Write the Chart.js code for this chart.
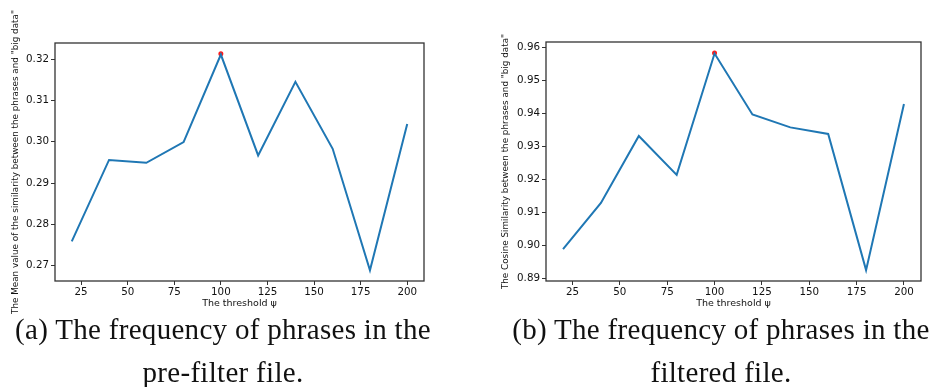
<!DOCTYPE html>
<html>
<head>
<meta charset="utf-8">
<script src="https://cdn.jsdelivr.net/npm/chart.js@4"></script>
<style>
  body { margin: 0; background: #fff; width: 935px; height: 387px; overflow: hidden; position: relative; }
  canvas { position: absolute; }
  #chartA { left: 0; top: 0; }
  #chartB { left: 470px; top: 0; }
  .caption {
    position: absolute; text-align: center; color: #111;
    font-family: 'Liberation Serif', serif; font-size: 29px; line-height: 43px;
    letter-spacing: 0.3px; white-space: nowrap;
  }
  #capA { left: 0; width: 446px; top: 308px; }
  #capB { left: 500px; width: 442px; top: 308px; }
</style>
</head>
<body>
<canvas id="chartA" width="460" height="320"></canvas>
<canvas id="chartB" width="465" height="310"></canvas>
<div class="caption" id="capA">(a) The frequency of phrases in the<br>pre-filter file.</div>
<div class="caption" id="capB">(b) The frequency of phrases in the<br>filtered file.</div>
<script>
// eşik değerleri (x ekseni)
const thresholds = [20, 40, 60, 80, 100, 120, 140, 160, 180, 200];

// (a) ön-filtre dosyası: ortalama benzerlik
const meanSimilarity = [0.2759, 0.2956, 0.2949, 0.2999, 0.3211, 0.2967, 0.3145, 0.2983, 0.2689, 0.3043];
// (b) filtrelenmiş dosya: kosinüs benzerliği
const cosineSimilarity = [0.8988, 0.9128, 0.9331, 0.9213, 0.9581, 0.9396, 0.9357, 0.9337, 0.8924, 0.9428];

// en yüksek nokta (kırmızı işaret)
const peakA = { x: 100, y: 0.3213 };
const peakB = { x: 100, y: 0.9583 };

// eksen işaretleri
const xTicks = [25, 50, 75, 100, 125, 150, 175, 200];
const yTicksA = [0.27, 0.28, 0.29, 0.30, 0.31, 0.32];
const yTicksB = [0.89, 0.90, 0.91, 0.92, 0.93, 0.94, 0.95, 0.96];

const xRange = [11, 209];
const yRangeA = [0.2663, 0.3239];
const yRangeB = [0.8891, 0.9616];

const xTitle = 'The threshold ψ';
const yTitleA = 'The Mean value of the similarity between the phrases and "big data"';
const yTitleB = 'The Cosine Similarity between the phrases and "big data"';

const axisColor = '#333';
const textColor = '#111';

// grafik alanının etrafına çerçeve çiz (matplotlib tarzı)
const framePlugin = {
    id: 'frame',
    afterDraw(chart) {
        const { ctx, chartArea: a } = chart;
        ctx.save();
        ctx.strokeStyle = axisColor;
        ctx.lineWidth = 1.3;
        ctx.strokeRect(a.left, a.top, a.right - a.left, a.bottom - a.top);
        ctx.restore();
    }
};

function makeChart(id, values, peak, yTicks, yRange, yTitle, box) {
    const ctx = document.getElementById(id);
    return new Chart(ctx, {
        type: 'line',
        data: {
            datasets: [
                {
                    data: thresholds.map((t, i) => ({ x: t, y: values[i] })),
                    borderColor: '#1f77b4',
                    borderWidth: 2,
                    pointRadius: 0,
                    tension: 0,
                    fill: false
                },
                {
                    data: [peak],
                    showLine: false,
                    pointRadius: 2.5,
                    pointBackgroundColor: '#ff1a1a',
                    pointBorderWidth: 0
                }
            ]
        },
        options: {
            responsive: false,
            animation: false,
            devicePixelRatio: 1,
            layout: { padding: { top: box.top, right: box.right, left: 0, bottom: 0 } },
            plugins: { legend: { display: false }, tooltip: { enabled: false } },
            scales: {
                x: {
                    type: 'linear',
                    min: xRange[0],
                    max: xRange[1],
                    afterBuildTicks: s => { s.ticks = xTicks.map(v => ({ value: v })); },
                    afterFit: s => { s.height = box.xHeight; },
                    grid: { drawOnChartArea: false, drawTicks: true, tickLength: 4, color: axisColor, lineWidth: 1 },
                    border: { display: false },
                    ticks: { color: textColor, padding: 1, maxRotation: 0, font: { family: 'DejaVu Sans', size: 10.3 } },
                    title: {
                        display: true, text: xTitle, color: textColor,
                        font: { family: 'DejaVu Sans', size: 9.5 },
                        padding: { top: 0, bottom: box.xTitlePad }
                    }
                },
                y: {
                    type: 'linear',
                    min: yRange[0],
                    max: yRange[1],
                    afterBuildTicks: s => { s.ticks = yTicks.map(v => ({ value: v })); },
                    afterFit: s => { s.width = box.yWidth; },
                    grid: { drawOnChartArea: false, drawTicks: true, tickLength: 4, color: axisColor, lineWidth: 1 },
                    border: { display: false },
                    ticks: {
                        color: textColor, padding: 2,
                        font: { family: 'DejaVu Sans', size: 10.3 },
                        callback: v => v.toFixed(2)
                    },
                    title: {
                        display: true, text: yTitle, color: textColor,
                        font: { family: 'DejaVu Sans', size: 8.8 },
                        padding: { top: box.yTitlePad, bottom: 0 }
                    }
                }
            }
        },
        plugins: [framePlugin]
    });
}

makeChart('chartA', meanSimilarity, peakA, yTicksA, yRangeA, yTitleA,
    { top: 43, right: 36, xHeight: 39, yWidth: 55, xTitlePad: 11, yTitlePad: 10 });
makeChart('chartB', cosineSimilarity, peakB, yTicksB, yRangeB, yTitleB,
    { top: 42, right: 14, xHeight: 29, yWidth: 76, xTitlePad: 1, yTitlePad: 30 });
</script>
</body>
</html>
